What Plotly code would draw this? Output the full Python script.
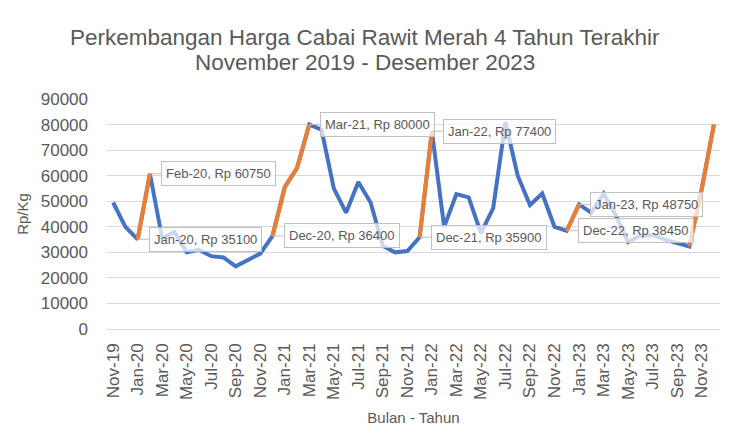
import plotly.graph_objects as go

bulan = ["Nov-19", "Dec-19",
         "Jan-20", "Feb-20", "Mar-20", "Apr-20", "May-20", "Jun-20", "Jul-20", "Aug-20", "Sep-20", "Oct-20", "Nov-20", "Dec-20",
         "Jan-21", "Feb-21", "Mar-21", "Apr-21", "May-21", "Jun-21", "Jul-21", "Aug-21", "Sep-21", "Oct-21", "Nov-21", "Dec-21",
         "Jan-22", "Feb-22", "Mar-22", "Apr-22", "May-22", "Jun-22", "Jul-22", "Aug-22", "Sep-22", "Oct-22", "Nov-22", "Dec-22",
         "Jan-23", "Feb-23", "Mar-23", "Apr-23", "May-23", "Jun-23", "Jul-23", "Aug-23", "Sep-23", "Oct-23", "Nov-23", "Dec-23"]

harga = [49500, 40000,
         35100, 60750, 35500, 38000, 30000, 31000, 28500, 28000, 24500, 27000, 29500, 36400,
         55500, 63000, 80000, 78000, 55000, 45500, 57500, 49500, 32500, 30000, 30500, 35900,
         77400, 40000, 52800, 51500, 37500, 47300, 81000, 60000, 48500, 53000, 40000, 38450,
         48750, 45500, 53000, 44500, 34000, 36500, 36800, 35000, 33700, 32300, 54500, 80000]

# periods of sharp increase (highlighted in orange)
segmen_naik = [("Jan-20", "Feb-20"), ("Dec-20", "Mar-21"), ("Dec-21", "Jan-22"),
               ("Dec-22", "Jan-23"), ("Oct-23", "Dec-23")]

# labelled points
label_bulan = ["Feb-20", "Jan-20", "Mar-21", "Dec-20", "Jan-22", "Dec-21", "Jan-23", "Dec-22"]

tick_bulan = bulan[::2]

judul1 = "Perkembangan Harga Cabai Rawit Merah 4 Tahun Terakhir"
judul2 = "November 2019 - Desember 2023"

BLUE = "#4472C4"
ORANGE = "#ED7D31"
TXT = "#595959"
GRID = "#D9D9D9"
FONT = "Liberation Sans, Arial, sans-serif"

fig = go.Figure()
fig.add_trace(go.Scatter(x=bulan, y=harga, mode="lines",
                         line=dict(color=BLUE, width=4), showlegend=False,
                         hoverinfo="x+y"))

orange = [None] * len(bulan)
for a, b in segmen_naik:
    ia, ib = bulan.index(a), bulan.index(b)
    for i in range(ia, ib + 1):
        orange[i] = harga[i]
fig.add_trace(go.Scatter(x=bulan, y=orange, mode="lines", connectgaps=False,
                         line=dict(color=ORANGE, width=4), showlegend=False,
                         hoverinfo="x+y"))

for m in label_bulan:
    v = harga[bulan.index(m)]
    fig.add_annotation(x=m, y=v, xref="x", yref="y",
                       text=f"{m}, Rp {v}", showarrow=True,
                       arrowhead=0, arrowwidth=1, arrowcolor="#BFBFBF",
                       ax=11, ay=0, xanchor="left", yanchor="middle",
                       bgcolor="rgba(255,255,255,0.72)", bordercolor="#BFBFBF",
                       borderwidth=1, borderpad=4,
                       font=dict(family=FONT, size=13, color=TXT))

# figure is placed 8px from the page's top-left corner (page margin)
W, H = 722, 427
ML, MR, MT, MB = 99, 10, 91, 106
pw, ph = W - ML - MR, H - MT - MB
tx = (357 - ML) / pw
for txt, py in [(judul1, 30), (judul2, 54)]:
    fig.add_annotation(text=txt, xref="paper", yref="paper",
                       x=tx, y=(H - MB - py) / ph, xanchor="center", yanchor="middle",
                       showarrow=False,
                       font=dict(family=FONT, size=22.5, color=TXT))

fig.update_layout(
    width=W, height=H,
    margin=dict(l=ML, r=MR, t=MT, b=MB, autoexpand=False),
    paper_bgcolor="white", plot_bgcolor="white",
    font=dict(family=FONT, color=TXT),
)

fig.update_xaxes(type="category", range=[-0.5, len(bulan) - 0.5],
                 tickmode="array", tickvals=tick_bulan, ticktext=tick_bulan,
                 tickangle=-90, tickfont=dict(family=FONT, size=17, color=TXT),
                 showgrid=False, showline=False, ticks="", ticklabelstandoff=10,
                 automargin=False,
                 title=dict(text="Bulan - Tahun", font=dict(family=FONT, size=15, color=TXT), standoff=13))
fig.update_yaxes(range=[0, 90000], dtick=10000, tickformat="d",
                 showgrid=True, gridcolor=GRID, gridwidth=1,
                 zeroline=True, zerolinecolor=GRID, zerolinewidth=1,
                 showline=False, ticks="", ticklabelstandoff=18, automargin=False,
                 tickfont=dict(family=FONT, size=17, color=TXT),
                 title=dict(text="Rp/Kg", font=dict(family=FONT, size=15, color=TXT), standoff=8))

fig.write_html("out.html")
